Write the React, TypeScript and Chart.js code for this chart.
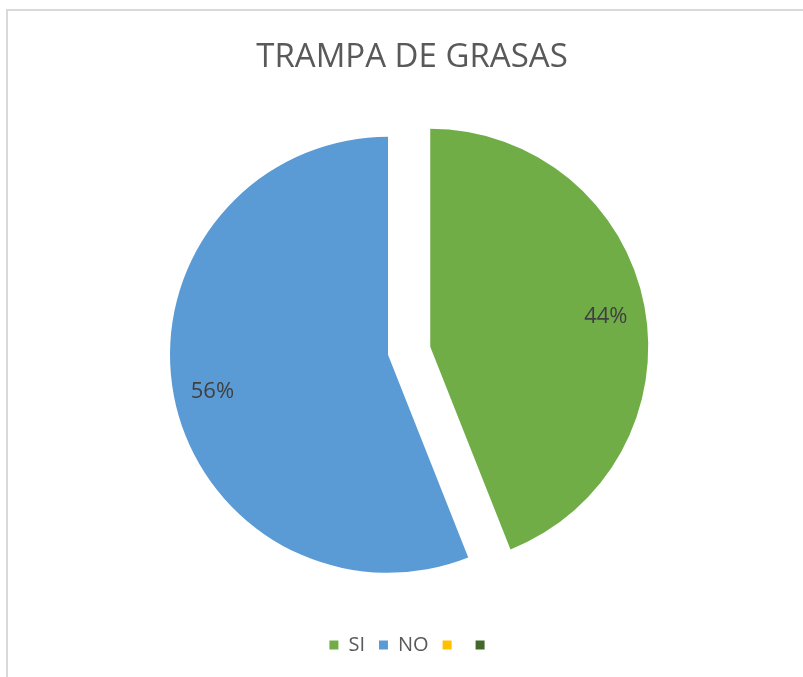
import React, { useEffect, useRef } from "react";
import { Chart, registerables } from "chart.js";

Chart.register(...registerables);

const chartTitle = "TRAMPA DE GRASAS";
const categories = ["SI", "NO", "", ""];
const values = [44, 56, 0, 0];
const sliceColors = ["#70AD47", "#5B9BD5", "#FFC000", "#43682B"];

const EXPLODE = [43, 0, 0, 0];
const PIE_RADIUS = 218;
const PIE_SHIFT_X = -24;
const FONT = "'Open Sans', 'Noto Sans', sans-serif";

const shiftPlugin = {
  id: "shiftPie",
  afterLayout(chart: any) {
    chart.chartArea.left += PIE_SHIFT_X;
    chart.chartArea.right += PIE_SHIFT_X;
  },
};

const explodePlugin = {
  id: "explodePie",
  afterDatasetsUpdate(chart: any) {
    const meta = chart.getDatasetMeta(0);
    meta.data.forEach((arc: any, i: number) => {
      const d = EXPLODE[i] || 0;
      if (!d) return;
      const mid = (arc.startAngle + arc.endAngle) / 2;
      arc.x += Math.cos(mid) * d;
      arc.y += Math.sin(mid) * d;
    });
  },
};

const labelPlugin = {
  id: "pctLabels",
  afterDatasetsDraw(chart: any) {
    const ctx = chart.ctx;
    const meta = chart.getDatasetMeta(0);
    const total = values.reduce((a, b) => a + b, 0);
    ctx.save();
    ctx.font = `22px ${FONT}`;
    ctx.fillStyle = "#404040";
    ctx.textAlign = "center";
    ctx.textBaseline = "middle";
    meta.data.forEach((arc: any, i: number) => {
      if (!values[i]) return;
      const mid = (arc.startAngle + arc.endAngle) / 2;
      const r = arc.outerRadius * 0.82;
      const x = arc.x + Math.cos(mid) * r;
      const y = arc.y + Math.sin(mid) * r + 3;
      ctx.fillText(Math.round((values[i] / total) * 100) + "%", x, y);
    });
    ctx.restore();
  },
};

export default function App() {
  const ref = useRef<HTMLCanvasElement>(null);

  useEffect(() => {
    if (!ref.current) return;
    const chart = new Chart(ref.current, {
      type: "pie",
      data: {
        labels: categories,
        datasets: [
          {
            data: values,
            backgroundColor: sliceColors,
            borderWidth: 0,
            clip: false as any,
          },
        ],
      },
      options: {
        animation: false,
        responsive: false,
        radius: PIE_RADIUS,
        layout: { padding: { top: 0, bottom: 12, left: 0, right: 0 } },
        plugins: {
          title: {
            display: true,
            text: chartTitle,
            color: "#595959",
            font: { family: FONT, size: 33, weight: "normal" as any, lineHeight: 1.2 },
            padding: { top: 27, bottom: 11 },
          },
          legend: {
            position: "bottom",
            labels: {
              color: "#595959",
              font: { family: FONT, size: 20 },
              boxWidth: 9,
              boxHeight: 9,
              padding: 14,
            },
          },
          tooltip: { enabled: false },
        },
      } as any,
      plugins: [shiftPlugin, explodePlugin, labelPlugin],
    });
    return () => chart.destroy();
  }, []);

  return (
    <div
      style={{
        position: "fixed",
        left: 0,
        top: 0,
        width: 803,
        height: 677,
        overflow: "hidden",
        background: "#ffffff",
      }}
    >
      <div
        style={{
          position: "absolute",
          left: 6,
          top: 9,
          width: 900,
          height: 900,
          borderLeft: "2px solid #d9d9d9",
          borderTop: "2px solid #d9d9d9",
        }}
      />
      <canvas
        ref={ref}
        width={808}
        height={666}
        style={{ position: "absolute", left: 8, top: 11, width: 808, height: 666 }}
      />
    </div>
  );
}
